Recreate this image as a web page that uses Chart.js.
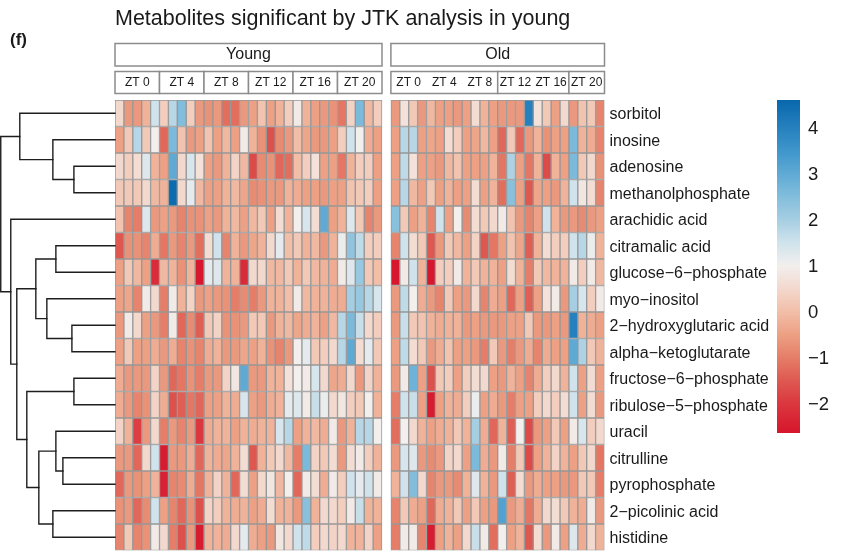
<!DOCTYPE html>
<html>
<head>
<meta charset="utf-8">
<script src="https://cdn.jsdelivr.net/npm/chart.js@4.4.1/dist/chart.umd.min.js"></script>
<style>
  html, body { margin: 0; padding: 0; background: #fff; }
  #wrap { width: 843px; height: 553px; position: relative; }
</style>
</head>
<body>
<div id="wrap"><canvas id="heat" width="843" height="553"></canvas></div>
<script>
// row order follows the clustering
const metabolites = [
  'sorbitol', 'inosine', 'adenosine', 'methanolphosphate', 'arachidic acid',
  'citramalic acid', 'glucose\u22126\u2212phosphate', 'myo\u2212inositol',
  '2\u2212hydroxyglutaric acid', 'alpha\u2212ketoglutarate', 'fructose\u22126\u2212phosphate',
  'ribulose\u22125\u2212phosphate', 'uracil', 'citrulline', 'pyrophosphate',
  '2\u2212picolinic acid', 'histidine'
];

const ztLabels = ['ZT 0', 'ZT 4', 'ZT 8', 'ZT 12', 'ZT 16', 'ZT 20'];
const youngPerZT = 5;
const oldPerZT = 4;
// which ZT groups share one header box in the old panel
const oldHeaderBoxes = [[0, 1, 2], [3, 4], [5]];

// scaled abundance, one row per metabolite, 30 young samples
const youngValues = [
  [0.5, -0.6, -0.6, -0.2, 1.5, 0.3, 1.8, 2.5, 0.3, -0.6, -0.7, -0.6, -1.2, -1.2, -0.6, -0.5, 0.1, -0.5, -0.2, 0.3, 0.9, -0.2, -0.5, -0.6, -0.7, -1.1, 0.4, 2.6, -0.1, 0.3],
  [-0.5, 0.2, 1.8, 0.2, 1.0, -1.3, 2.6, 0.1, -0.6, -0.5, 0.1, -0.5, -0.1, -0.5, 0.9, -0.2, -0.7, -1.6, -0.8, -0.6, 0.0, -0.4, -0.6, -0.6, -0.5, 0.3, 1.5, 1.0, -0.3, -0.5],
  [0.5, 0.3, 0.6, 1.3, -0.2, -0.5, 3.0, 0.5, 1.4, 0.7, -0.5, -0.6, -0.2, 0.4, -0.1, -1.7, -0.8, -0.7, -1.3, -1.2, 0.0, 0.3, 0.7, -0.5, -0.5, -1.1, -0.2, 0.3, 0.3, -0.5],
  [0.2, 0.2, 0.2, 0.5, -0.1, -0.2, 4.5, 0.5, 1.2, -0.1, -0.5, -0.5, -0.2, -0.1, -0.4, -0.8, -0.7, -0.6, -0.6, -0.2, -0.3, -0.5, -0.5, -0.6, -0.5, -0.5, 0.1, 0.2, 0.3, -0.5],
  [0.1, -0.9, -1.0, 1.3, -0.6, -0.5, -0.6, -0.9, -0.7, -0.7, -0.5, -0.6, -0.2, -0.1, -0.5, -0.1, 0.2, -0.5, 0.6, -0.2, 1.0, 1.4, 0.6, 3.0, -0.5, -0.2, 1.3, 0.2, -0.9, -0.6],
  [-1.5, -0.7, -0.7, -0.9, -0.3, -1.1, -0.6, -0.9, -0.6, -1.2, 0.6, 1.5, -0.9, -0.2, -0.6, -0.4, -0.2, 0.5, 1.2, 0.0, 0.2, -0.2, -0.1, -0.6, -0.2, 1.1, 2.3, 1.7, 0.3, 0.3],
  [-0.5, 0.2, -0.1, -0.5, -2.2, -0.1, -0.2, -0.7, -0.2, -2.6, 1.2, 1.3, -0.2, -0.2, -2.2, 0.5, 0.5, -0.1, -0.1, 0.2, -0.2, 0.2, -0.1, -0.2, -0.3, 0.9, 1.3, 2.2, 0.2, 0.0],
  [-0.5, -0.4, -0.9, 0.9, 0.5, -1.0, 0.9, -0.2, 0.4, -0.6, -0.5, -0.6, -0.7, -1.0, -0.8, -1.0, -0.6, -0.2, -0.2, 0.0, 0.9, -0.1, -0.2, -0.2, -0.3, -0.3, 2.0, 2.2, 1.8, 1.4],
  [-0.6, 0.9, 0.5, -0.5, -0.6, -1.0, 0.9, -1.3, -0.8, -1.4, 0.2, 0.4, -0.7, -0.7, -0.6, 0.2, 0.2, -0.6, -0.2, -0.1, -0.4, -0.3, -0.2, -0.5, -0.1, 1.8, 2.6, 1.6, 0.5, 0.3],
  [-0.5, 0.2, -0.5, -0.5, -0.3, -0.6, -0.3, -0.9, -0.7, -0.9, -0.3, -0.2, -0.6, -0.6, -0.4, -0.5, -0.2, -0.7, -0.9, -0.6, 1.0, 1.2, 0.2, 0.3, 0.5, 1.8, 3.0, 0.6, 1.2, 0.2],
  [-0.3, -0.6, -0.6, -0.6, 0.4, -0.6, -1.3, -1.1, -0.7, -1.0, -0.6, -0.6, 0.4, 0.8, 3.0, -0.6, -0.6, -0.2, -0.2, 0.7, 1.0, 0.9, 1.4, 0.5, -0.4, -0.3, 0.5, -0.6, 0.4, -0.2],
  [-0.3, -0.6, -0.9, -0.7, 0.4, -0.3, -1.6, -1.4, -1.1, -1.3, -0.5, -0.5, -0.2, -0.3, 1.4, -0.5, -0.6, -0.3, -0.2, 1.2, 1.3, 0.9, 1.6, 1.1, 0.5, 0.8, 0.3, 0.2, 1.0, -0.2],
  [0.4, -0.2, -1.9, -0.6, 0.5, -1.0, -0.6, -0.9, -0.6, -2.0, -0.3, -0.2, -0.2, -0.5, -0.2, -0.3, -0.2, -0.2, 1.4, 1.8, -0.5, -0.2, -0.1, -0.3, 0.9, -0.6, -0.2, 1.8, 1.8, 1.0],
  [-0.6, -0.6, -1.3, 0.5, 1.5, -2.5, -0.6, -0.6, -0.3, -1.3, -0.2, -0.3, -0.4, -0.2, 0.6, -1.5, -0.2, 0.2, 0.5, -0.1, -1.0, 2.6, 0.4, 0.2, 0.6, -0.6, 0.6, 0.9, 0.3, -0.2],
  [-1.3, -0.6, -0.7, -0.5, -0.2, -2.4, -0.9, -0.8, -0.3, -1.1, -0.2, 0.4, -0.2, -1.3, 0.6, -0.5, 0.5, 0.8, -0.1, 1.0, -1.3, 0.9, 0.6, -0.3, 0.9, 0.3, 1.5, 1.2, 1.5, 0.9],
  [-0.7, -0.6, -1.3, -0.8, 1.5, -0.5, -0.9, -1.3, -0.7, -1.6, 0.4, 0.3, -0.2, -0.3, -0.2, -0.5, -0.3, 0.6, -0.2, -0.2, -0.6, 2.4, -0.2, 0.5, 0.5, 0.3, 0.9, 1.6, -0.2, -0.2],
  [-0.9, 0.2, -0.9, -0.7, 0.9, 0.5, -1.0, -1.6, -0.6, -2.5, -0.2, -0.2, -0.3, 0.5, 1.2, -0.3, -0.5, -0.6, 0.8, 0.5, 1.5, 1.7, 0.3, 0.5, 0.4, 0.5, -0.2, -0.2, 0.4, -0.5]
];

// 24 old samples
const oldValues = [
  [-0.6, 0.7, 0.2, -0.6, -0.1, -0.5, -0.5, -0.6, -0.5, 0.6, -0.2, -0.5, -0.6, -0.6, -0.6, 4.0, 0.7, 0.2, -0.5, 0.5, -0.6, 0.1, 0.2, -0.9],
  [-0.5, 1.8, 1.8, -0.5, -0.4, -0.5, 0.6, 0.3, -0.5, -0.4, -0.1, -0.5, -1.3, 0.2, -1.3, -0.6, -0.2, -0.7, -0.5, -0.5, 2.6, -0.2, -0.3, -0.9],
  [-0.5, 1.7, 0.7, -0.5, -0.5, -0.6, -0.1, 0.1, -0.5, -0.5, -0.5, -0.2, -1.1, 1.9, -0.5, -1.1, -0.2, -1.7, -0.2, -0.5, 2.6, 0.2, 0.5, -0.7],
  [-0.5, 1.8, -0.1, -0.5, 0.2, -0.5, -0.2, -0.5, -0.5, 0.6, -0.5, -0.2, -1.2, 2.4, -0.5, -1.5, -0.4, -0.5, -0.6, -0.2, 1.5, 0.8, 0.6, -0.9],
  [2.4, 0.2, -0.5, -0.2, -0.9, 1.5, -0.5, 1.0, -0.8, 0.6, 0.2, 0.5, 0.9, 0.1, -0.6, -0.9, -0.5, 1.5, -0.2, -0.6, -0.6, -0.8, -0.6, -0.5],
  [-0.9, 1.5, 0.6, 0.2, -1.5, -0.6, 0.2, -0.1, -0.5, 0.4, -1.5, -1.1, -0.5, 0.1, -0.4, -1.4, -0.2, 0.6, 0.3, 0.3, 1.5, 1.8, 1.1, -0.2],
  [-2.6, 0.9, 1.5, -0.2, -2.6, 0.3, 0.3, 0.9, -0.2, 0.2, -0.2, -0.2, -0.5, 0.6, -0.2, -1.0, 0.2, -0.1, -0.2, -0.2, 0.9, 0.3, 0.9, -0.1],
  [-0.6, 1.7, 1.0, -0.3, -0.6, -0.9, 0.2, -0.5, -0.6, 0.5, -0.9, -0.3, -0.5, -1.3, -0.5, -1.4, -0.5, 0.7, 0.9, -0.6, 2.0, 1.4, 0.3, 0.9],
  [-0.6, 1.6, 0.2, 0.1, -0.2, -0.3, -0.2, -0.2, -0.6, -0.5, -0.6, -0.6, -0.6, -0.5, -0.5, 0.2, -0.6, -0.6, -0.5, -0.6, 4.0, -0.2, -0.3, -0.5],
  [-0.5, 1.7, 0.6, 0.2, -0.6, -0.3, 0.1, -0.5, -0.5, -0.6, -1.0, 0.2, -0.6, -1.0, -0.6, -0.3, -0.9, -0.3, -0.5, -0.5, 3.0, 1.9, 0.2, -0.2],
  [-0.6, 0.9, 2.8, -0.5, -1.6, 0.2, 0.3, -0.5, 0.3, 0.6, 0.5, -0.5, -0.6, -0.2, -0.5, -0.9, -0.3, 0.3, 0.5, -0.2, 1.5, -0.5, 0.6, -0.5],
  [-1.0, 1.5, 1.6, -0.5, -2.5, -0.5, -0.2, -0.3, 0.3, 1.1, -0.5, -0.3, -0.6, -1.0, -0.5, -0.5, 0.3, 0.5, 0.3, 0.6, 1.5, -0.5, 0.6, -0.6],
  [-1.2, 1.0, 0.5, -0.2, -0.5, -0.3, -0.2, 0.2, -0.2, 2.0, -0.3, -1.3, -0.2, -1.4, 1.0, -1.7, -0.6, -0.5, 0.2, -0.5, 0.9, 1.4, 0.3, 0.5],
  [-0.6, 1.4, 1.3, -0.6, -0.8, -0.6, 0.4, 0.5, -0.5, 2.6, -0.3, -0.6, 0.9, -1.0, 0.2, -1.7, -0.5, -0.2, 0.4, -0.2, -0.5, 0.2, 0.5, -1.1],
  [-0.2, 1.5, 2.5, 0.5, -0.9, -0.6, -0.6, -0.8, -0.2, 1.3, -0.2, -0.6, 1.5, -1.4, 0.6, -0.6, -0.3, -0.5, -0.5, -0.6, -0.6, 0.2, 0.2, -1.0],
  [-0.9, 0.2, -0.3, -0.5, -1.3, -0.3, -0.2, 0.2, -0.5, 0.2, -0.5, -0.6, 3.2, -0.6, -0.3, -1.1, -0.3, 0.5, 0.6, 0.2, -0.2, -0.3, 0.9, -0.6],
  [-1.0, 0.9, 0.9, -0.9, -2.5, -0.5, -0.2, -0.5, 0.5, 1.6, 0.9, -1.2, 1.0, -0.5, -0.2, -1.5, 0.6, -0.6, 0.9, -0.5, 1.3, -0.3, 0.5, -0.2]
];

// row dendrogram, hclust style: negative = leaf (1-based row), positive = earlier merge
const dendroMerges = [
  [-3, -4, 41], [-2, 1, 62], [-1, 2, 95], [-6, -7, 59], [-9, -10, 43],
  [-8, 5, 68], [4, 6, 79], [-11, -12, 41], [-14, -15, 52], [-13, 9, 59],
  [-16, -17, 62], [10, 11, 76], [8, 12, 88], [7, 13, 98], [-5, 14, 104], [3, 15, 114]
];

const legendRange = [-2.63, 4.6];
const legendTicks = [4, 3, 2, 1, 0, -1, -2];

const titleText = 'Metabolites significant by JTK analysis in young';

// colour ramp (value, rgb)
const ramp = [
  [-2.63, [214, 21, 44]], [-2.0, [219, 55, 62]], [-1.5, [222, 88, 80]],
  [-1.0, [229, 125, 104]], [-0.5, [237, 160, 131]], [0.0, [242, 190, 168]],
  [0.5, [243, 216, 205]], [1.0, [242, 239, 237]], [1.5, [208, 227, 236]],
  [2.0, [166, 206, 226]], [2.5, [130, 190, 220]], [3.0, [95, 170, 213]],
  [3.5, [62, 150, 203]], [4.0, [38, 128, 190]], [4.6, [8, 104, 172]]
];

function heatColor(v) {
  if (v <= ramp[0][0]) return 'rgb(' + ramp[0][1].join(',') + ')';
  for (let i = 1; i < ramp.length; i++) {
    if (v <= ramp[i][0]) {
      const t = (v - ramp[i - 1][0]) / (ramp[i][0] - ramp[i - 1][0]);
      const a = ramp[i - 1][1], b = ramp[i][1];
      return 'rgb(' + a.map((c, k) => Math.round(c + (b[k] - c) * t)).join(',') + ')';
    }
  }
  return 'rgb(' + ramp[ramp.length - 1][1].join(',') + ')';
}

const sans = '"Liberation Sans", Arial, sans-serif';
const narrow = '"Liberation Sans Narrow", "Liberation Sans", Arial, sans-serif';

const nYoung = youngValues[0].length;
const nOld = oldValues[0].length;
const oldStart = nYoung + 1;   // one empty column between the panels
const nCols = oldStart + nOld;

function columnDataset(values, col, x0) {
  return {
    data: values.map(() => [x0, x0 + 1]),
    backgroundColor: values.map(row => heatColor(row[col])),
    borderColor: '#979797',
    borderWidth: 1,
    borderSkipped: false,
    barPercentage: 1,
    categoryPercentage: 1,
    grouped: false
  };
}

let datasets = [];
for (let c = 0; c < nYoung; c++) datasets.push(columnDataset(youngValues, c, c));
for (let c = 0; c < nOld; c++) datasets.push(columnDataset(oldValues, c, oldStart + c));

function headerBox(ctx, x1, x2, y1, y2) {
  ctx.fillStyle = '#fff';
  ctx.fillRect(x1, y1, x2 - x1, y2 - y1);
  ctx.strokeStyle = '#8c8c8c';
  ctx.lineWidth = 1.5;
  ctx.strokeRect(x1, y1, x2 - x1, y2 - y1);
}

const decor = {
  id: 'decor',
  afterDraw(chart) {
    const ctx = chart.ctx;
    const xs = chart.scales.x, ys = chart.scales.y;
    const area = chart.chartArea;
    ctx.save();

    // title and panel letter
    ctx.fillStyle = '#1a1a1a';
    ctx.textAlign = 'left';
    ctx.textBaseline = 'alphabetic';
    ctx.font = '21.5px ' + sans;
    ctx.fillText(titleText, area.left, 25);
    ctx.font = 'bold 17px ' + sans;
    ctx.fillText('(f)', 10, 45);

    // panel headers
    const panels = [
      { name: 'Young', start: 0, per: youngPerZT, boxes: ztLabels.map((z, i) => [i]) },
      { name: 'Old', start: oldStart, per: oldPerZT, boxes: oldHeaderBoxes }
    ];
    ctx.textAlign = 'center';
    ctx.textBaseline = 'middle';
    panels.forEach(p => {
      const n = p.per * ztLabels.length;
      const left = xs.getPixelForValue(p.start), right = xs.getPixelForValue(p.start + n);
      headerBox(ctx, left, right, 43.5, 66);
      ctx.fillStyle = '#1a1a1a';
      ctx.font = '16px ' + sans;
      ctx.fillText(p.name, (left + right) / 2, 55);
      p.boxes.forEach(g => {
        const b1 = xs.getPixelForValue(p.start + g[0] * p.per);
        const b2 = xs.getPixelForValue(p.start + (g[g.length - 1] + 1) * p.per);
        headerBox(ctx, b1, b2, 71.5, 93.5);
        ctx.fillStyle = '#1a1a1a';
        ctx.font = '12px ' + narrow;
        g.forEach(i => {
          const cx = xs.getPixelForValue(p.start + (i + 0.5) * p.per);
          ctx.fillText(ztLabels[i], cx, 83);
        });
      });
    });

    // dendrogram
    const maxH = dendroMerges[dendroMerges.length - 1][2];
    const hScale = (area.left - 0.75) / maxH;
    const nodes = [];
    const pos = id => id < 0
      ? { y: ys.getPixelForValue(-id - 1), x: area.left }
      : nodes[id - 1];
    ctx.strokeStyle = '#1e1e1e';
    ctx.lineWidth = 1.4;
    ctx.lineCap = 'square';
    dendroMerges.forEach(m => {
      const a = pos(m[0]), b = pos(m[1]);
      const x = area.left - m[2] * hScale;
      ctx.beginPath();
      ctx.moveTo(a.x, a.y); ctx.lineTo(x, a.y);
      ctx.lineTo(x, b.y); ctx.lineTo(b.x, b.y);
      ctx.stroke();
      nodes.push({ x: x, y: (a.y + b.y) / 2 });
    });

    // colour key
    const kl = 777, kr = 800, kt = 100, kb = 433;
    const vToY = v => kt + (legendRange[1] - v) / (legendRange[1] - legendRange[0]) * (kb - kt);
    for (let py = kt; py < kb; py++) {
      const v = legendRange[1] - (py + 0.5 - kt) / (kb - kt) * (legendRange[1] - legendRange[0]);
      ctx.fillStyle = heatColor(v);
      ctx.fillRect(kl, py, kr - kl, 1);
    }
    ctx.fillStyle = '#1a1a1a';
    ctx.font = '18.5px ' + sans;
    ctx.textAlign = 'left';
    ctx.textBaseline = 'middle';
    legendTicks.forEach(t => {
      ctx.fillText(t < 0 ? '\u2212' + Math.abs(t) : String(t), 808, vToY(t) + 1);
    });
    ctx.restore();
  }
};

new Chart(document.getElementById('heat'), {
  type: 'bar',
  data: { labels: metabolites, datasets: datasets },
  options: {
    indexAxis: 'y',
    responsive: false,
    animation: false,
    devicePixelRatio: 1,
    layout: { padding: { left: 115, top: 100, right: 0, bottom: 2.5 } },
    plugins: { legend: { display: false }, tooltip: { enabled: false }, title: { display: false } },
    scales: {
      x: { type: 'linear', min: 0, max: nCols, display: false },
      y: {
        type: 'category',
        position: 'right',
        grid: { display: false, drawTicks: false },
        border: { display: false },
        ticks: { color: '#1a1a1a', font: { family: sans, size: 16 }, padding: 5, autoSkip: false, labelOffset: 1.5 },
        afterFit: s => {
          s.width = 843 - 604.5;
          s.paddingTop = 0;
          s.paddingBottom = 0;
        }
      }
    }
  },
  plugins: [decor]
});
</script>
</body>
</html>
